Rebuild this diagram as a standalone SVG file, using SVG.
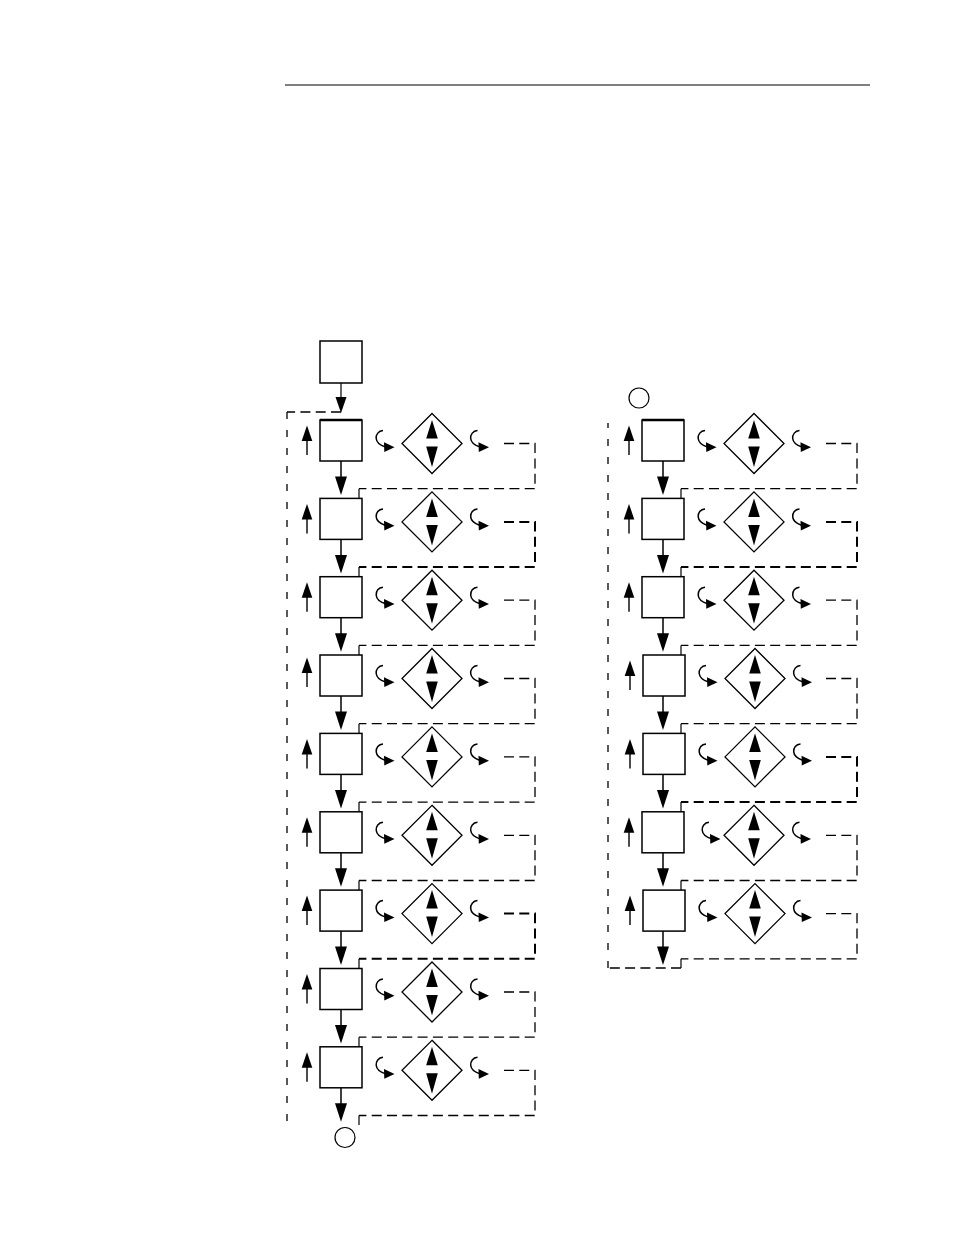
<svg xmlns="http://www.w3.org/2000/svg" xmlns:xlink="http://www.w3.org/1999/xlink" width="954" height="1235" viewBox="0 0 954 1235">
<style>
.box{fill:#fff;stroke:#000;stroke-width:1.5}
.ln{stroke:#000;stroke-width:1.2;fill:none}
.d{stroke:#000;stroke-width:1.3;fill:none;stroke-dasharray:10 5.3}
.dk{stroke:#000;stroke-width:2;fill:none;stroke-dasharray:10 5.3}
.dv{stroke:#000;stroke-width:1.3;fill:none;stroke-dasharray:7 11}
.circ{fill:#fff;stroke:#000;stroke-width:1.2}
</style>
<defs>
<g id="curl"><path d="M7 -1.5 C2.5 -1.2 -0.2 2.5 0.2 6.5 C0.6 10.5 3.5 13 9 14.8" fill="none" stroke="#000" stroke-width="1.5"/><polygon points="8,10.3 18.5,15.3 8.3,20"/></g>
<g id="dia"><polygon points="0,-30 30,0 0,30 -30,0" fill="#fff" stroke="#000" stroke-width="1.3"/><polygon points="0,-23.5 5.8,-5 -5.8,-5"/><polygon points="-5.8,3 5.8,3 0,23.5"/></g>
<g id="up"><line x1="0" y1="35" x2="0" y2="19" stroke="#000" stroke-width="1.4"/><polygon points="0,5.5 -5.3,21 5.3,21"/></g>
<g id="dn"><line x1="0" y1="0" x2="0" y2="17" stroke="#000" stroke-width="1.5"/><polygon points="-6,15.5 6,15.5 0,34"/></g>
</defs>
<rect width="954" height="1235" fill="#fff"/>
<line x1="285" y1="85" x2="870" y2="85" stroke="#000" stroke-width="1.2"/>

<g id="connectors">
<!-- left column -->
<line class="ln" x1="341" y1="383" x2="341" y2="398"/>
<polygon points="335.5,397 346.5,397 341,413"/>
<path class="d" d="M341 412 H287"/>
<path class="dv" d="M287 412 V1125"/>
<use xlink:href="#dn" x="341" y="461"/>
<use xlink:href="#dn" x="341" y="539.4"/>
<use xlink:href="#dn" x="341" y="617.7"/>
<use xlink:href="#dn" x="341" y="696"/>
<use xlink:href="#dn" x="341" y="774.4"/>
<use xlink:href="#dn" x="341" y="852.8"/>
<use xlink:href="#dn" x="341" y="931.1"/>
<use xlink:href="#dn" x="341" y="1009.5"/>
<use xlink:href="#dn" x="341" y="1087.8"/>
<path class="d" d="M504 443.5 H535 V488.7 H359"/><line class="ln" x1="359" y1="488.7" x2="359" y2="498.4"/>
<path class="dk" d="M504 521.9 H535 V567.1 H359"/><line class="ln" x1="359" y1="567.1" x2="359" y2="576.7"/>
<path class="d" d="M504 600.2 H535 V645.4 H359"/><line class="ln" x1="359" y1="645.4" x2="359" y2="655"/>
<path class="d" d="M504 678.5 H535 V723.7 H359"/><line class="ln" x1="359" y1="723.7" x2="359" y2="733.4"/>
<path class="d" d="M504 756.9 H535 V802.1 H359"/><line class="ln" x1="359" y1="802.1" x2="359" y2="811.8"/>
<path class="d" d="M504 835.3 H535 V880.5 H359"/><line class="ln" x1="359" y1="880.5" x2="359" y2="890.1"/>
<path class="dk" d="M504 913.6 H535 V958.8 H359"/><line class="ln" x1="359" y1="958.8" x2="359" y2="968.5"/>
<path class="d" d="M504 992 H535 V1037.2 H359"/><line class="ln" x1="359" y1="1037.2" x2="359" y2="1046.8"/>
<path class="d" d="M504 1070.3 H535 V1115.5 H359"/><line class="ln" x1="359" y1="1115.5" x2="359" y2="1125"/>
<!-- right column -->
<use xlink:href="#dn" x="663" y="461"/>
<use xlink:href="#dn" x="663" y="539.4"/>
<use xlink:href="#dn" x="663" y="617.7"/>
<use xlink:href="#dn" x="663" y="696"/>
<use xlink:href="#dn" x="663" y="774.4"/>
<use xlink:href="#dn" x="663" y="852.8"/>
<use xlink:href="#dn" x="663" y="931.1"/>
<path class="d" d="M826 443.5 H857 V488.7 H681"/><line class="ln" x1="681" y1="488.7" x2="681" y2="498.4"/>
<path class="dk" d="M826 521.9 H857 V567.1 H681"/><line class="ln" x1="681" y1="567.1" x2="681" y2="576.7"/>
<path class="d" d="M826 600.2 H857 V645.4 H681"/><line class="ln" x1="681" y1="645.4" x2="681" y2="655"/>
<path class="d" d="M826 678.5 H857 V723.7 H681"/><line class="ln" x1="681" y1="723.7" x2="681" y2="733.4"/>
<path class="dk" d="M826 756.9 H857 V802.1 H681"/><line class="ln" x1="681" y1="802.1" x2="681" y2="811.8"/>
<path class="d" d="M826 835.3 H857 V880.5 H681"/><line class="ln" x1="681" y1="880.5" x2="681" y2="890.1"/>
<path class="d" d="M826 913.6 H857 V958.8 H681"/><line class="ln" x1="681" y1="958.8" x2="681" y2="968"/>
<path class="d" d="M681 968 H608"/>
<path class="dv" d="M608 968 V423"/>
</g>

<g id="start"><rect class="box" x="320" y="341" width="42" height="42"/></g>
<g id="end-left"><circle class="circ" cx="345" cy="1137.5" r="10"/></g>
<g id="start-right"><circle class="circ" cx="639" cy="398" r="10"/></g>

<g id="L1" transform="translate(0,420)"><rect class="box" x="320" y="0" width="42" height="41"/><line x1="320" y1="0" x2="362" y2="0" stroke="#000" stroke-width="2.5"/><use xlink:href="#up" x="307"/><use xlink:href="#curl" x="376" y="12"/><use xlink:href="#dia" x="432" y="23.5"/><use xlink:href="#curl" x="470.5" y="12"/></g>
<g id="L2" transform="translate(0,498.4)"><rect class="box" x="320" y="0" width="42" height="41"/><use xlink:href="#up" x="307"/><use xlink:href="#curl" x="376" y="12"/><use xlink:href="#dia" x="432" y="23.5"/><use xlink:href="#curl" x="470.5" y="12"/></g>
<g id="L3" transform="translate(0,576.7)"><rect class="box" x="320" y="0" width="42" height="41"/><use xlink:href="#up" x="307"/><use xlink:href="#curl" x="376" y="12"/><use xlink:href="#dia" x="432" y="23.5"/><use xlink:href="#curl" x="470.5" y="12"/></g>
<g id="L4" transform="translate(0,655)"><rect class="box" x="320" y="0" width="42" height="41"/><use xlink:href="#up" x="307" y="-3"/><use xlink:href="#curl" x="376" y="12"/><use xlink:href="#dia" x="432" y="23.5"/><use xlink:href="#curl" x="470.5" y="12"/></g>
<g id="L5" transform="translate(0,733.4)"><rect class="box" x="320" y="0" width="42" height="41"/><use xlink:href="#up" x="307"/><use xlink:href="#curl" x="376" y="12"/><use xlink:href="#dia" x="432" y="23.5"/><use xlink:href="#curl" x="470.5" y="12"/></g>
<g id="L6" transform="translate(0,811.8)"><rect class="box" x="320" y="0" width="42" height="41"/><use xlink:href="#up" x="307"/><use xlink:href="#curl" x="376" y="12"/><use xlink:href="#dia" x="432" y="23.5"/><use xlink:href="#curl" x="470.5" y="12"/></g>
<g id="L7" transform="translate(0,890.1)"><rect class="box" x="320" y="0" width="42" height="41"/><use xlink:href="#up" x="307"/><use xlink:href="#curl" x="376" y="12"/><use xlink:href="#dia" x="432" y="23.5"/><use xlink:href="#curl" x="470.5" y="12"/></g>
<g id="L8" transform="translate(0,968.5)"><rect class="box" x="320" y="0" width="42" height="41"/><use xlink:href="#up" x="307"/><use xlink:href="#curl" x="376" y="12"/><use xlink:href="#dia" x="432" y="23.5"/><use xlink:href="#curl" x="470.5" y="12"/></g>
<g id="L9" transform="translate(0,1046.8)"><rect class="box" x="320" y="0" width="42" height="41"/><use xlink:href="#up" x="307"/><use xlink:href="#curl" x="376" y="12"/><use xlink:href="#dia" x="432" y="23.5"/><use xlink:href="#curl" x="470.5" y="12"/></g>

<g id="R1" transform="translate(322,420)"><rect class="box" x="320" y="0" width="42" height="41"/><line x1="320" y1="0" x2="362" y2="0" stroke="#000" stroke-width="2.5"/><use xlink:href="#up" x="307"/><use xlink:href="#curl" x="376" y="12"/><use xlink:href="#dia" x="432" y="23.5"/><use xlink:href="#curl" x="470.5" y="12"/></g>
<g id="R2" transform="translate(322,498.4)"><rect class="box" x="320" y="0" width="42" height="41"/><use xlink:href="#up" x="307"/><use xlink:href="#curl" x="376" y="12"/><use xlink:href="#dia" x="432" y="23.5"/><use xlink:href="#curl" x="470.5" y="12"/></g>
<g id="R3" transform="translate(322,576.7)"><rect class="box" x="320" y="0" width="42" height="41"/><use xlink:href="#up" x="307"/><use xlink:href="#curl" x="376" y="12"/><use xlink:href="#dia" x="432" y="23.5"/><use xlink:href="#curl" x="470.5" y="12"/></g>
<g id="R4" transform="translate(323,655)"><rect class="box" x="320" y="0" width="42" height="41"/><use xlink:href="#up" x="307"/><use xlink:href="#curl" x="376" y="12"/><use xlink:href="#dia" x="432" y="23.5"/><use xlink:href="#curl" x="470.5" y="12"/></g>
<g id="R5" transform="translate(323,733.4)"><rect class="box" x="320" y="0" width="42" height="41"/><use xlink:href="#up" x="307"/><use xlink:href="#curl" x="376" y="12"/><use xlink:href="#dia" x="432" y="23.5"/><use xlink:href="#curl" x="470.5" y="12"/></g>
<g id="R6" transform="translate(322,811.8)"><rect class="box" x="320" y="0" width="42" height="41"/><use xlink:href="#up" x="307"/><use xlink:href="#curl" x="380" y="12"/><use xlink:href="#dia" x="432" y="23.5"/><use xlink:href="#curl" x="470.5" y="12"/></g>
<g id="R7" transform="translate(323,890.1)"><rect class="box" x="320" y="0" width="42" height="41"/><use xlink:href="#up" x="307"/><use xlink:href="#curl" x="376" y="12"/><use xlink:href="#dia" x="432" y="23.5"/><use xlink:href="#curl" x="470.5" y="12"/></g>
</svg>
